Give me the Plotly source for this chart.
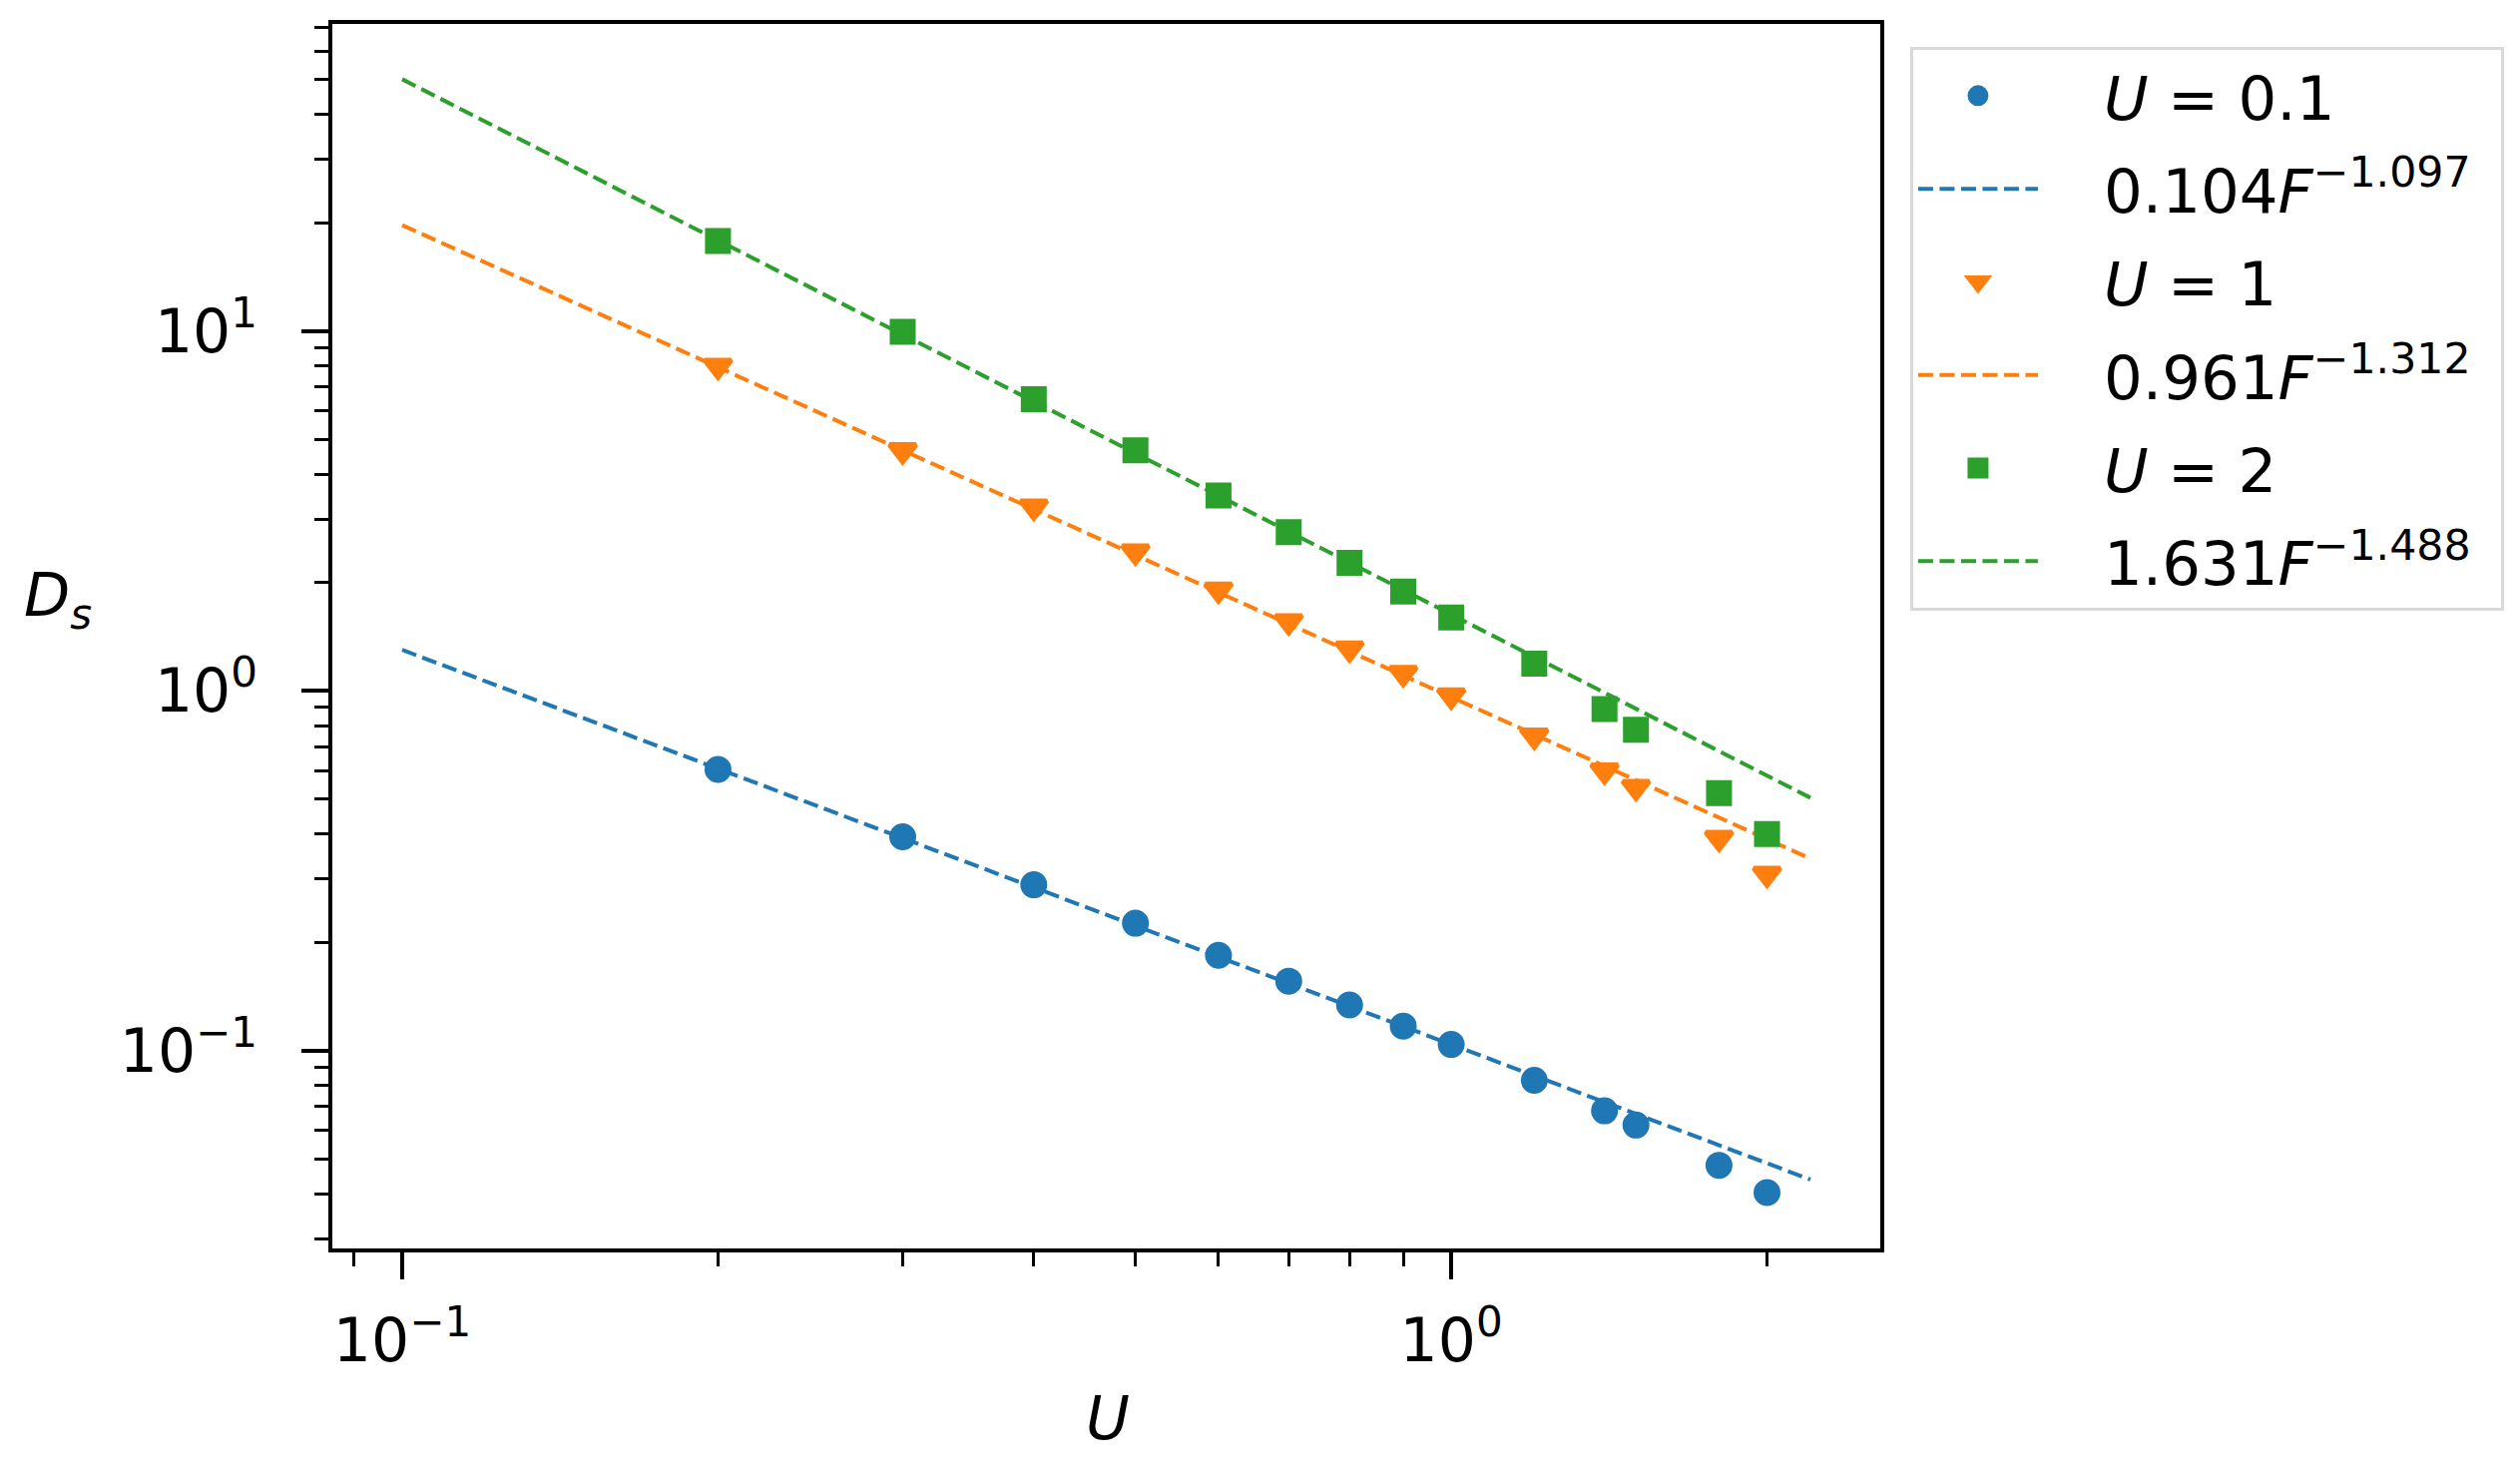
import plotly.graph_objects as go

# field values F (x axis, labelled U in the figure)
F = [0.2, 0.3, 0.4, 0.5, 0.6, 0.7, 0.8, 0.9, 1.0, 1.2, 1.4, 1.5, 1.8, 2.0]

# measured D_s for each U
ds_u01 = [0.605, 0.393, 0.289, 0.226, 0.184, 0.156, 0.134, 0.117, 0.104,
          0.0827, 0.068, 0.0621, 0.048, 0.0403]
ds_u1 = [8.0, 4.66, 3.25, 2.44, 1.91, 1.56, 1.31, 1.12, 0.97,
         0.75, 0.60, 0.54, 0.39, 0.31]
ds_u2 = [17.8, 9.95, 6.47, 4.66, 3.49, 2.76, 2.27, 1.89, 1.60,
         1.19, 0.89, 0.78, 0.52, 0.40]

# power-law fits, end points of the straight (log-log) lines
fit_x = [0.1, 2.2]
fit_u01 = [1.300, 0.0438]
fit_u1 = [19.71, 0.3416]
fit_u2 = [50.17, 0.5045]

labels = ["<i>U</i> = 0.1", "0.104<i>F</i><sup>\u22121.097</sup>",
          "<i>U</i> = 1", "0.961<i>F</i><sup>\u22121.312</sup>",
          "<i>U</i> = 2", "1.631<i>F</i><sup>\u22121.488</sup>"]

BLUE = "#1f77b4"
ORANGE = "#ff7f0e"
GREEN = "#2ca02c"
FONT = "DejaVu Sans"
DASH = "15px,6.5px"
GAP = "\u2003"          # pushes legend text away from the symbol
PAD = "\u2009\u2009"    # a little room on the right of the legend

fig = go.Figure()

series = [
    (ds_u01, fit_u01, BLUE, "circle", 22),
    (ds_u1, fit_u1, ORANGE, "triangle-down", 23),
    (ds_u2, fit_u2, GREEN, "square", 21),
]
for i, (ds, fit, color, symbol, size) in enumerate(series):
    fig.add_trace(go.Scatter(
        x=F, y=ds, mode="markers", name=GAP + labels[2 * i] + PAD,
        legendgroup=f"m{i}",
        marker=dict(color=color, symbol=symbol, size=size,
                    line=dict(color=color, width=5)),
    ))
    fig.add_trace(go.Scatter(
        x=fit_x, y=fit, mode="lines", name=GAP + labels[2 * i + 1] + PAD,
        legendgroup=f"f{i}",
        line=dict(color=color, width=4, dash=DASH),
    ))

minor_x = [0.09] + [k / 10 for k in range(2, 10)] + [2.0]
minor_y = ([k / 100 for k in range(3, 10)] + [k / 10 for k in range(2, 10)]
           + [float(k) for k in range(2, 10)] + [float(k) for k in range(20, 80, 10)])

axis_common = dict(
    type="log",
    showgrid=False, zeroline=False,
    showline=True, linecolor="black", linewidth=4, mirror=True,
    ticks="outside", ticklen=27, tickwidth=4, tickcolor="black",
    tickfont=dict(family=FONT, size=60, color="black"),
    tickmode="array",
    tickvals=[0.1, 1, 10],
    ticktext=["10<sup>\u22121</sup>", "10<sup>0</sup>", "10<sup>1</sup>"],
)

fig.update_xaxes(
    **axis_common,
    ticklabelstandoff=10,
    range=[-1.0666, 0.409],
    minor=dict(tickmode="array", tickvals=minor_x, ticks="outside",
               ticklen=14, tickwidth=3, tickcolor="black", showgrid=False),
)
fig.update_yaxes(
    **axis_common,
    ticklabelstandoff=32,
    range=[-1.55, 1.854],
    minor=dict(tickmode="array", tickvals=minor_y, ticks="outside",
               ticklen=14, tickwidth=3, tickcolor="black", showgrid=False),
)

fig.add_annotation(text="<i>D</i><sub><i>s</i></sub>", xref="paper", yref="paper",
                   x=-0.2005, y=0.53, xanchor="left", showarrow=False,
                   font=dict(family=FONT, size=60, color="black"))
fig.add_annotation(text="<i>U</i>", xref="paper", yref="paper",
                   x=0.501, y=-0.169, showarrow=False,
                   font=dict(family=FONT, size=60, color="black"))

# the page body has an 8px default margin, so the margins are shifted by it
fig.update_layout(
    width=2525, height=1471,
    margin=dict(l=325, r=649, t=12, b=228),
    paper_bgcolor="white", plot_bgcolor="white",
    font=dict(family=FONT, size=60, color="black"),
    showlegend=True,
    legend=dict(
        x=1.0193, y=0.9815, xanchor="left", yanchor="top",
        bgcolor="white", bordercolor="#d9d9d9", borderwidth=3,
        font=dict(family=FONT, size=61, color="black"),
        itemwidth=120, itemsizing="trace",
        traceorder="grouped", tracegroupgap=11,
    ),
)

fig.write_html("out.html")
